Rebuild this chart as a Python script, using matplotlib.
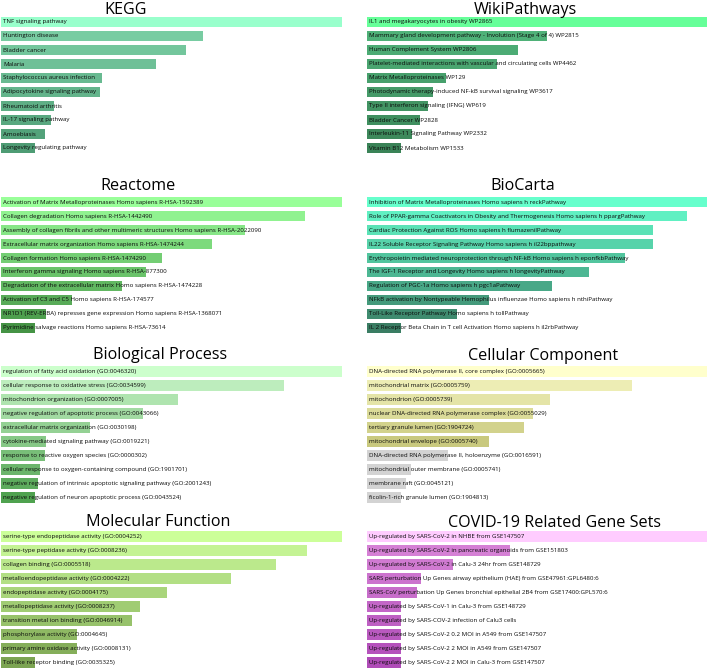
import matplotlib
matplotlib.use("Agg")
import matplotlib.pyplot as plt
from matplotlib.colors import to_rgb
import numpy as np

plt.rcParams['font.family'] = ['Open Sans', 'DejaVu Sans']

W, H = 708, 670

# ---- data: relative enrichment scores (bar length) ----
kegg_terms = [
    "TNF signaling pathway", "Huntington disease", "Bladder cancer", "Malaria",
    "Staphylococcus aureus infection", "Adipocytokine signaling pathway",
    "Rheumatoid arthritis", "IL-17 signaling pathway", "Amoebiasis",
    "Longevity regulating pathway",
]
kegg_scores = [1.0, 0.592, 0.543, 0.455, 0.296, 0.29, 0.155, 0.147, 0.129, 0.1]

wiki_terms = [
    "IL1 and megakaryocytes in obesity WP2865",
    "Mammary gland development pathway - Involution (Stage 4 of 4) WP2815",
    "Human Complement System WP2806",
    "Platelet-mediated interactions with vascular and circulating cells WP4462",
    "Matrix Metalloproteinases WP129",
    "Photodynamic therapy-induced NF-kB survival signaling WP3617",
    "Type II interferon signaling (IFNG) WP619",
    "Bladder Cancer WP2828",
    "Interleukin-11 Signaling Pathway WP2332",
    "Vitamin B12 Metabolism WP1533",
]
wiki_scores = [1.0, 0.529, 0.444, 0.382, 0.232, 0.194, 0.179, 0.156, 0.132, 0.1]

reactome_terms = [
    "Activation of Matrix Metalloproteinases Homo sapiens R-HSA-1592389",
    "Collagen degradation Homo sapiens R-HSA-1442490",
    "Assembly of collagen fibrils and other multimeric structures Homo sapiens R-HSA-2022090",
    "Extracellular matrix organization Homo sapiens R-HSA-1474244",
    "Collagen formation Homo sapiens R-HSA-1474290",
    "Interferon gamma signaling Homo sapiens R-HSA-877300",
    "Degradation of the extracellular matrix Homo sapiens R-HSA-1474228",
    "Activation of C3 and C5 Homo sapiens R-HSA-174577",
    "NR1D1 (REV-ERBA) represses gene expression Homo sapiens R-HSA-1368071",
    "Pyrimidine salvage reactions Homo sapiens R-HSA-73614",
]
reactome_scores = [1.0, 0.891, 0.716, 0.619, 0.472, 0.425, 0.355, 0.208, 0.132, 0.1]

biocarta_terms = [
    "Inhibition of Matrix Metalloproteinases Homo sapiens h reckPathway",
    "Role of PPAR-gamma Coactivators in Obesity and Thermogenesis Homo sapiens h ppargPathway",
    "Cardiac Protection Against ROS Homo sapiens h flumazenilPathway",
    "IL22 Soluble Receptor Signaling Pathway Homo sapiens h il22bppathway",
    "Erythropoietin mediated neuroprotection through NF-kB Homo sapiens h eponfkbPathway",
    "The IGF-1 Receptor and Longevity Homo sapiens h longevityPathway",
    "Regulation of PGC-1a Homo sapiens h pgc1aPathway",
    "NFkB activation by Nontypeable Hemophilus influenzae Homo sapiens h nthiPathway",
    "Toll-Like Receptor Pathway Homo sapiens h tollPathway",
    "IL 2 Receptor Beta Chain in T cell Activation Homo sapiens h il2rbPathway",
]
biocarta_scores = [1.0, 0.941, 0.841, 0.841, 0.759, 0.653, 0.544, 0.359, 0.265, 0.1]

bp_terms = [
    "regulation of fatty acid oxidation (GO:0046320)",
    "cellular response to oxidative stress (GO:0034599)",
    "mitochondrion organization (GO:0007005)",
    "negative regulation of apoptotic process (GO:0043066)",
    "extracellular matrix organization (GO:0030198)",
    "cytokine-mediated signaling pathway (GO:0019221)",
    "response to reactive oxygen species (GO:0000302)",
    "cellular response to oxygen-containing compound (GO:1901701)",
    "negative regulation of intrinsic apoptotic signaling pathway (GO:2001243)",
    "negative regulation of neuron apoptotic process (GO:0043524)",
]
bp_scores = [1.0, 0.83, 0.52, 0.416, 0.261, 0.132, 0.129, 0.114, 0.108, 0.1]

cc_terms = [
    "DNA-directed RNA polymerase II, core complex (GO:0005665)",
    "mitochondrial matrix (GO:0005759)",
    "mitochondrion (GO:0005739)",
    "nuclear DNA-directed RNA polymerase complex (GO:0055029)",
    "tertiary granule lumen (GO:1904724)",
    "mitochondrial envelope (GO:0005740)",
    "DNA-directed RNA polymerase II, holoenzyme (GO:0016591)",
    "mitochondrial outer membrane (GO:0005741)",
    "membrane raft (GO:0045121)",
    "ficolin-1-rich granule lumen (GO:1904813)",
]
cc_scores = [1.0, 0.779, 0.538, 0.488, 0.462, 0.359, 0.238, 0.129, 0.115, 0.1]

mf_terms = [
    "serine-type endopeptidase activity (GO:0004252)",
    "serine-type peptidase activity (GO:0008236)",
    "collagen binding (GO:0005518)",
    "metalloendopeptidase activity (GO:0004222)",
    "endopeptidase activity (GO:0004175)",
    "metallopeptidase activity (GO:0008237)",
    "transition metal ion binding (GO:0046914)",
    "phosphorylase activity (GO:0004645)",
    "primary amine oxidase activity (GO:0008131)",
    "Toll-like receptor binding (GO:0035325)",
]
mf_scores = [1.0, 0.897, 0.806, 0.674, 0.487, 0.408, 0.384, 0.223, 0.223, 0.1]

covid_terms = [
    "Up-regulated by SARS-CoV-2 in NHBE from GSE147507",
    "Up-regulated by SARS-CoV-2 in pancreatic organoids from GSE151803",
    "Up-regulated by SARS-CoV-2 in Calu-3 24hr from GSE148729",
    "SARS perturbation Up Genes airway epithelium (HAE) from GSE47961:GPL6480:6",
    "SARS-CoV perturbation Up Genes bronchial epithelial 2B4 from GSE17400:GPL570:6",
    "Up-regulated by SARS-CoV-1 in Calu-3 from GSE148729",
    "Up-regulated by SARS-COV-2 infection of Calu3 cells",
    "Up-regulated by SARS-CoV-2 0.2 MOI in A549 from GSE147507",
    "Up-regulated by SARS-CoV-2 2 MOI in A549 from GSE147507",
    "Up-regulated by SARS-CoV-2 2 MOI in Calu-3 from GSE147507",
]
covid_scores = [1.0, 0.42, 0.253, 0.159, 0.147, 0.1, 0.1, 0.1, 0.1, 0.1]


def shades(top, second, last, n=10):
    # first bar is the light "most significant" colour, the rest darken down
    a, b = np.array(to_rgb(second)), np.array(to_rgb(last))
    out = [to_rgb(top)]
    for k in range(n - 1):
        t = k / (n - 2)
        out.append(tuple(a + (b - a) * t))
    return out


cc_colors = shades("#FFFFCC", "#EDEDB4", "#C9C97E", 6) + ["#D3D3D3"] * 4

panels = [
    # title, terms, scores, colors, column, row, title x centre, title baseline
    ("KEGG", kegg_terms, kegg_scores, shades("#99FFCC", "#78CCA2", "#4E9C74"), 0, 0, 126, 13.5),
    ("WikiPathways", wiki_terms, wiki_scores, shades("#66FF99", "#4FB178", "#3A8357"), 1, 0, 525, 13.5),
    ("Reactome", reactome_terms, reactome_scores, shades("#99FF99", "#90F290", "#459345"), 0, 1, 138, 190),
    ("BioCarta", biocarta_terms, biocarta_scores, shades("#66FFCC", "#60F0C2", "#3A7D63"), 1, 1, 523, 190),
    ("Biological Process", bp_terms, bp_scores, shades("#CCFFCC", "#BDEDBD", "#4FA24F"), 0, 2, 160, 359),
    ("Cellular Component", cc_terms, cc_scores, cc_colors, 1, 2, 543, 360),
    ("Molecular Function", mf_terms, mf_scores, shades("#CCFF99", "#C4F394", "#7CA452"), 0, 3, 158, 526),
    ("COVID-19 Related Gene Sets", covid_terms, covid_scores, shades("#FFCCFF", "#D580D5", "#B04CB8"), 1, 3, 554, 527),
]

col_x = [1, 367]
col_w = [341, 340]
row_top = [15, 195, 364.5, 529.5]
ax_h = 140

fig = plt.figure(figsize=(W / 100, H / 100), dpi=100)

for title, terms, scores, colors, col, row, tx, ty in panels:
    x0, w, top = col_x[col], col_w[col], row_top[row]
    ax = fig.add_axes([x0 / W, 1 - (top + ax_h) / H, w / W, ax_h / H])
    y = np.arange(len(terms))
    ax.barh(y, scores, height=0.78, color=colors)
    ax.set_xlim(0, 1)
    ax.set_ylim(len(terms) - 0.5, -0.5)
    ax.axis('off')
    for i, t in enumerate(terms):
        ax.text(2.2 / w, i, t, transform=ax.get_yaxis_transform(),
                va='center', ha='left', fontsize=4.4, color='#0a0a0a')
    fig.text(tx / W, 1 - ty / H, title, ha='center', va='baseline',
             fontsize=11.6, color='black')

fig.savefig("out.png", dpi=100)
